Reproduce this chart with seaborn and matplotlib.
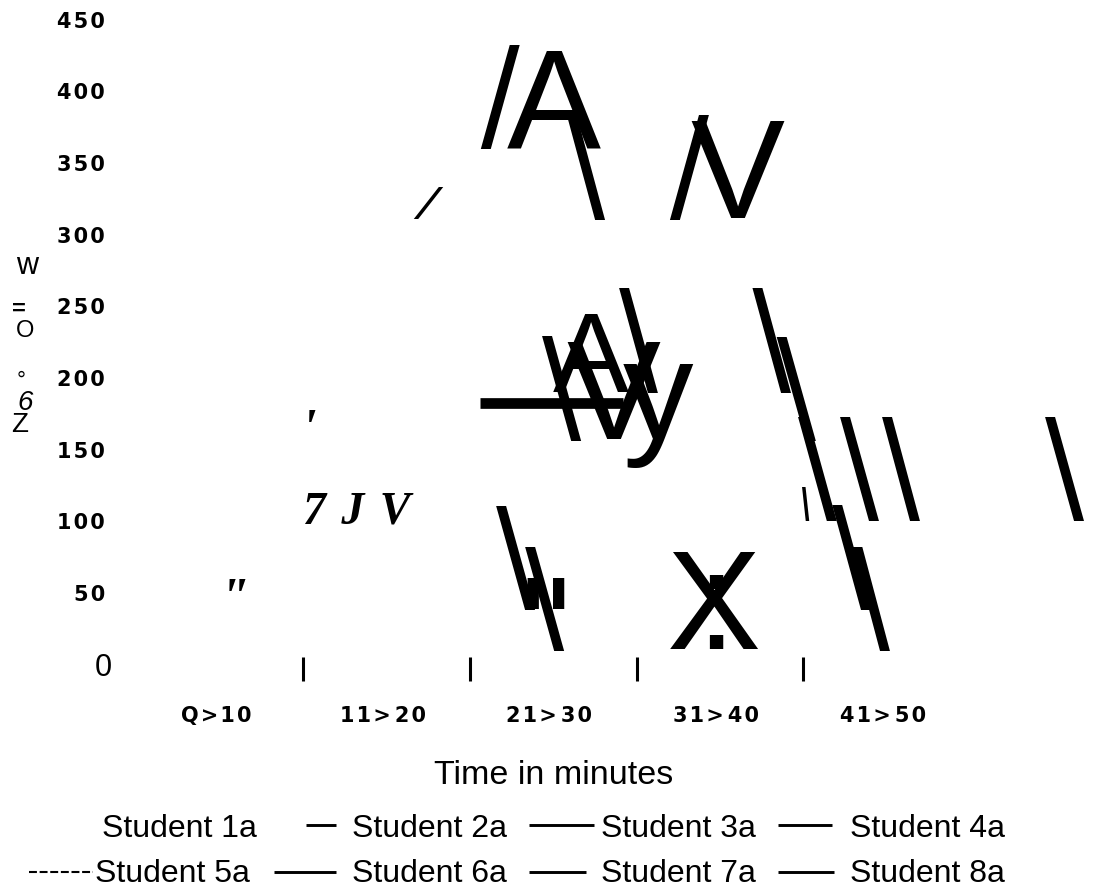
#!/usr/bin/env python
import matplotlib
matplotlib.use("Agg")
import matplotlib.pyplot as plt
import matplotlib.transforms as transforms
import pandas as pd
import seaborn as sns

# time classes and count axis
time_labels = ["Q\u200a>\u200a1\u200a0", "1\u200a1\u200a>\u20092\u200a0", "2\u200a1\u200a>\u20093\u200a0",
               "3\u200a1\u200a>\u20094\u200a0", "4\u200a1\u200a>\u20095\u200a0"]
class_edges = [0.5, 1.5, 2.5, 3.5]
count_ticks = [0, 50, 100, 150, 200, 250, 300, 350, 400, 450]
count_labels = ["0", "5\u200a0", "1\u200a0\u200a0", "1\u200a5\u200a0", "2\u200a0\u200a0", "2\u200a5\u200a0",
                "3\u200a0\u200a0", "3\u200a5\u200a0", "4\u200a0\u200a0", "4\u200a5\u200a0"]

# line fragments, one entry per fragment (time class position, count)
frag_x0 = [1.768, 2.112, 2.903, 2.424, 1.962, 1.686, 1.860, 3.224, 3.369, 3.497, 3.749, 4.001, 4.979, 3.703, 3.823, 3.502, 1.326, 1.560]
frag_y0 = [432.6, 383.0, 383.7, 263.0, 229.5, 111.1, 82.5, 263.0, 229.0, 173.2, 173.2, 173.2, 173.2, 111.4, 82.5, 124.2, 333.5, 183.1]
frag_x1 = [1.594, 2.280, 2.729, 2.597, 2.136, 1.860, 2.034, 3.395, 3.544, 3.670, 3.923, 4.169, 5.153, 3.875, 3.989, 3.524, 1.176, 2.418]
frag_y1 = [359.8, 310.5, 310.5, 189.8, 156.5, 38.4, 10.0, 190.0, 156.5, 100.5, 100.5, 100.5, 100.5, 38.4, 9.8, 100.7, 311.2, 183.1]
frag_width = [6.9] * 15 + [2.5, 2.5, 7.7]

# glyphs left on the plot area
big_glyphs = ["A", "V", "V", "y", '"', "X", ":"]
big_x = [1.722, 2.820, 2.076, 2.418, 1.800, 2.681, 2.855]
big_y = [360.7, 311.9, 157.7, 157.7, -7.7, 11.2, 11.2]
mid_glyph_x = 1.998
mid_glyph_y = 190.5
serif_glyphs = ['"', "'", "7 \u200aJ \u200aV"]
serif_x = [0.0, 0.488, 0.498]
serif_y = [35.5, 153.6, 98.4]
serif_sizes = [37.5, 37.5, 33]

# broken up y axis title
title_glyphs = ["w", "=", "O", "\u00b0", "6", "Z"]
title_x = [-1.224, -1.25, -1.224, -1.22, -1.218, -1.25]
title_y = [272.8, 243.5, 228.8, 194.0, 177.9, 162.6]
title_sizes = [22, 17, 17, 16, 20, 20]

# legend
students = ["Student 1a", "Student 2a", "Student 3a", "Student 4a",
            "Student 5a", "Student 6a", "Student 7a", "Student 8a"]
label_left = [102, 352, 601, 850, 95, 352, 601, 850]
label_base = [837, 837, 837, 837, 882, 882, 882, 882]
key_start = [306, 529, 778, 274, 529, 778]
key_end = [336, 594, 832, 336, 586, 834]
key_row = [825, 825, 825, 872, 872, 872]
dash_start = 29
dash_end = 93

sns.set_theme(style="white")
plt.rcParams["font.family"] = ["Liberation Sans", "DejaVu Sans"]

fig = plt.figure(figsize=(10.93, 8.88), dpi=100)
ax = fig.add_axes([136.65 / 1093, (888 - 668.5) / 888, 833.5 / 1093, 648.5 / 888])

for i in range(len(frag_x0)):
    # slanted ones run a bit past both ends, the clip box then cuts them off level
    slanted = frag_y0[i] != frag_y1[i]
    dx = (frag_x1[i] - frag_x0[i]) * 0.1 if slanted else 0
    dy = (frag_y1[i] - frag_y0[i]) * 0.1
    frag = pd.DataFrame({"x": [frag_x0[i] - dx, frag_x1[i] + dx], "y": [frag_y0[i] - dy, frag_y1[i] + dy]})
    sns.lineplot(data=frag, x="x", y="y", estimator=None, sort=False, color="black",
                 linewidth=frag_width[i], solid_capstyle="butt", legend=False, ax=ax)
    line = ax.lines[-1]
    if slanted:
        box = transforms.Bbox([[-3, frag_y1[i]], [7, frag_y0[i]]])
        line.set_clip_box(transforms.TransformedBbox(box, ax.transData))
    else:
        line.set_clip_on(False)

for g, x, y in zip(big_glyphs, big_x, big_y):
    ax.text(x, y, g, fontsize=101.5, color="black", ha="left", va="baseline")
ax.text(mid_glyph_x, mid_glyph_y, "A", fontsize=82, color="black", ha="left", va="baseline")
for g, x, y, s in zip(serif_glyphs, serif_x, serif_y, serif_sizes):
    ax.text(x, y, g, fontsize=s, family="Liberation Serif", style="italic", weight="bold",
            color="black", ha="left", va="baseline")
for i, g in enumerate(title_glyphs):
    ax.text(title_x[i], title_y[i], g, fontsize=title_sizes[i], color="black", ha="left", va="baseline",
            weight="bold" if g == "=" else "normal", style="italic" if g == "6" else "normal")

ax.set_xlim(-0.5, 4.5)
ax.set_ylim(-2.44, 450)
ax.set_xlabel("Time in minutes", fontsize=24.5, color="black", labelpad=24.3)
ax.set_ylabel("")
sns.despine(ax=ax, left=True, bottom=True)

ax.set_yticks(count_ticks)
ax.set_yticklabels(count_labels, fontsize=15, family="DejaVu Sans", weight="bold", color="black")
ax.tick_params(axis="y", length=0, pad=22.8)
up = transforms.ScaledTranslation(0, 0.5 / 100, fig.dpi_scale_trans)
for lab in ax.get_yticklabels():
    lab.set_transform(lab.get_transform() + up)
zero = ax.get_yticklabels()[0]
zero.set_fontfamily("Liberation Sans")
zero.set_fontweight("normal")
zero.set_fontsize(22)
zero.set_transform(zero.get_transform() + transforms.ScaledTranslation(7 / 100, 0, fig.dpi_scale_trans))

ax.set_xticks(class_edges)
ax.set_xticklabels([])
ax.tick_params(axis="x", which="major", direction="inout", length=16.6, width=2.2, color="black", bottom=True)
ax.set_xticks(range(5), minor=True)
ax.set_xticklabels(time_labels, minor=True, fontsize=15, family="DejaVu Sans", weight="bold", color="black")
ax.tick_params(axis="x", which="minor", length=0, pad=27)
shift = transforms.ScaledTranslation(-4 / 100, 0, fig.dpi_scale_trans)
for lab in ax.get_xticklabels(minor=True):
    lab.set_transform(lab.get_transform() + shift)

# legend keys live in their own full figure axes, measured in pixels
leg = fig.add_axes([0, 0, 1, 1], facecolor="none")
keys = []
for i in range(len(key_start)):
    keys.append([i, key_start[i], key_row[i]])
    keys.append([i, key_end[i], key_row[i]])
keys = pd.DataFrame(keys, columns=["key", "x", "y"])
sns.lineplot(data=keys, x="x", y="y", units="key", estimator=None, sort=False,
             color="black", linewidth=2.1, solid_capstyle="butt", legend=False, ax=leg)
dash = pd.DataFrame({"x": [dash_start, dash_end], "y": [872, 872]})
sns.lineplot(data=dash, x="x", y="y", estimator=None, sort=False, color="black", linewidth=1.5,
             linestyle=(0, (3.8, 1.3)), legend=False, ax=leg)
for s, x, y in zip(students, label_left, label_base):
    leg.text(x, y, s, fontsize=23, color="black", ha="left", va="baseline")
leg.set_xlim(0, 1093)
leg.set_ylim(888, 0)
leg.axis("off")

fig.savefig("out.png", dpi=100)
